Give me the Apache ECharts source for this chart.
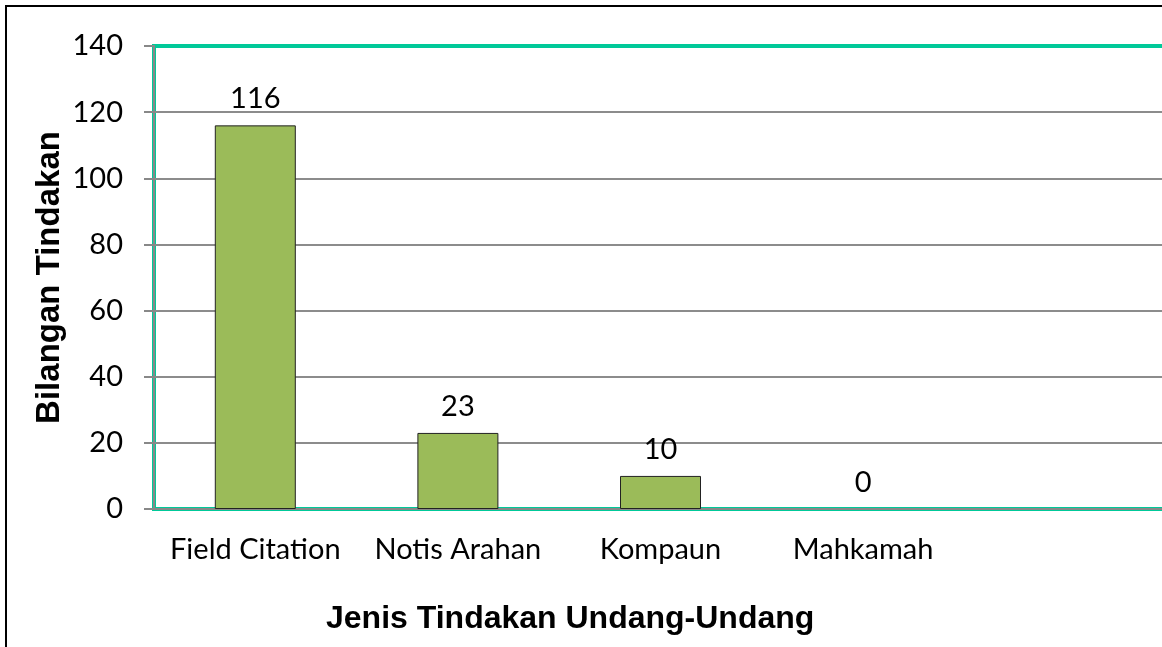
<!DOCTYPE html>
<html>
<head>
<meta charset="utf-8">
<script src="https://cdn.jsdelivr.net/npm/echarts@6/dist/echarts.min.js"></script>
<style>
  html, body { margin: 0; padding: 0; background: #fff; }
  #chart { width: 1162px; height: 647px; }
</style>
</head>
<body>
<div id="chart"></div>
<script>
// categories (last slot is empty in the source chart)
const categories = ['Field Citation', 'Notis Arahan', 'Kompaun', 'Mahkamah', '']
const counts = [116, 23, 10, 0, '-']
const yTicks = { min: 0, max: 140, step: 20 }
const xTitle = 'Jenis Tindakan Undang-Undang'
const yTitle = 'Bilangan Tindakan'

const chart = echarts.init(document.getElementById('chart'))

chart.setOption({
  animation: false,
  backgroundColor: '#fff',
  title: {
    text: xTitle,
    left: 326,
    top: 603,
    padding: 0,
    textStyle: {
      fontFamily: 'Liberation Sans',
      fontWeight: 'bold',
      fontSize: 32,
      color: '#000'
    }
  },
  graphic: [{
    type: 'rect',
    shape: { x: 6, y: 6, width: 1300, height: 800 },
    style: { fill: 'none', stroke: '#000', lineWidth: 2 },
    silent: true
  }],
  grid: {
    left: 154,
    top: 46,
    height: 463,
    width: 1013,
    show: true,
    borderColor: '#00C999',
    borderWidth: 4,
    containLabel: false,
    outerBoundsMode: 'none'
  },
  xAxis: {
    type: 'category',
    data: categories,
    axisTick: { show: false },
    axisLine: { lineStyle: { color: '#888', width: 2 } },
    axisLabel: {
      interval: 0,
      color: '#000',
      fontFamily: 'Lato',
      fontSize: 29,
      margin: 26
    }
  },
  yAxis: {
    type: 'value',
    min: yTicks.min,
    max: yTicks.max,
    interval: yTicks.step,
    name: yTitle,
    nameLocation: 'middle',
    nameGap: 88,
    nameMoveOverlap: false,
    nameTextStyle: {
      fontFamily: 'Liberation Sans',
      fontWeight: 'bold',
      fontSize: 33,
      color: '#000'
    },
    axisLine: { show: true, lineStyle: { color: '#888', width: 2 } },
    axisTick: { show: true, length: 10, lineStyle: { color: '#888', width: 2 } },
    splitLine: {
      showMinLine: false,
      showMaxLine: false,
      lineStyle: { color: '#8c8c8c', width: 2 }
    },
    axisLabel: {
      color: '#000',
      fontFamily: 'Lato',
      fontSize: 29,
      margin: 31
    }
  },
  series: [{
    type: 'bar',
    data: counts.map(v => ({
      value: v,
      itemStyle: { borderWidth: v === 0 ? 0 : 1 }
    })),
    barWidth: 81,
    itemStyle: {
      color: '#9BBB59',
      borderColor: '#222',
      borderWidth: 1
    },
    label: {
      show: true,
      position: 'top',
      distance: 12,
      color: '#000',
      fontFamily: 'Lato',
      fontSize: 29
    }
  }]
})
</script>
</body>
</html>
